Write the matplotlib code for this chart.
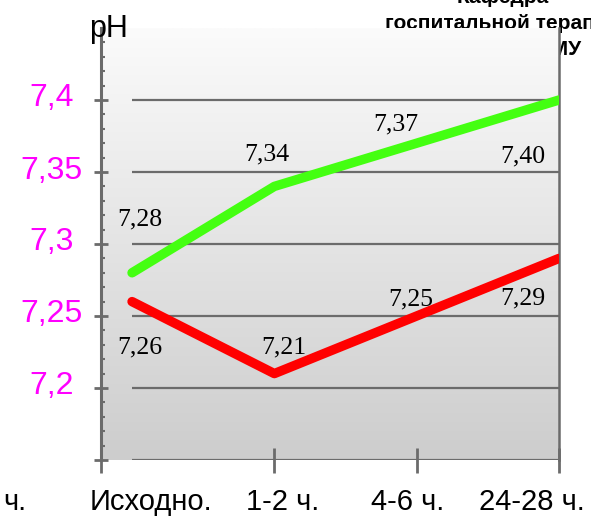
import numpy as np
import matplotlib.pyplot as plt
from matplotlib.colors import LinearSegmentedColormap
from matplotlib.ticker import MultipleLocator
from matplotlib.transforms import ScaledTranslation

plt.rcParams['font.family'] = ['Liberation Sans', 'DejaVu Sans']

# data
categories = ["Исходно.", "1-2 ч.", "4-6 ч.", "24-28 ч."]
green_vals = [7.28, 7.34, 7.37, 7.40]
red_vals = [7.26, 7.21, 7.25, 7.29]
green_text = ["7,28", "7,34", "7,37", "7,40"]
red_text = ["7,26", "7,21", "7,25", "7,29"]
y_ticks = [7.15, 7.2, 7.25, 7.3, 7.35, 7.4]
y_labels = ["", "7,2", "7,25", "7,3", "7,35", "7,4"]

# label offsets in pixels from each point
green_off = [(8, 47), (-8, 26), (-21, 13), (-36, -62)]
red_off = [(8, -52), (9, 20), (-6, 11), (-36, -46)]
cat_off = [19, 8, -9, -27]

W, H = 591, 517
fig = plt.figure(figsize=(W / 100, H / 100), dpi=100)
ax = fig.add_axes([101 / W, 57 / H, 458 / W, 432 / H])

x = np.arange(len(categories))
xlim = (-0.218, len(categories) - 1)
ylim = (7.15, 7.45)
ax.set_xlim(xlim)
ax.set_ylim(ylim)

# background gradient
cmap = LinearSegmentedColormap.from_list("bg", ["#fbfbfb", "#cdcdcd"])
ax.imshow(np.linspace(0, 1, 256).reshape(-1, 1), extent=[*xlim, *ylim],
          aspect='auto', cmap=cmap, zorder=0)

grid_c = '#6b6b6b'
ax.hlines(y_ticks, x[0], x[-1], colors=grid_c, lw=1.6, zorder=1)

ax.plot(x, green_vals, color='#44ff11', lw=6.8, solid_capstyle='round', zorder=3)
ax.plot(x, red_vals, color='#ff0000', lw=6.8, solid_capstyle='round', zorder=3)

for i in range(len(x)):
    ax.annotate(green_text[i], (x[i], green_vals[i]), xytext=green_off[i],
                textcoords='offset pixels', ha='center', va='baseline',
                fontsize=18.5, family='Liberation Serif', zorder=4)
    ax.annotate(red_text[i], (x[i], red_vals[i]), xytext=red_off[i],
                textcoords='offset pixels', ha='center', va='baseline',
                fontsize=18.5, family='Liberation Serif', zorder=4)
    ax.annotate(categories[i], (x[i], 0), xycoords=('data', 'axes fraction'),
                xytext=(cat_off[i], -50), textcoords='offset pixels',
                ha='center', va='baseline', fontsize=21, annotation_clip=False)

# spines and ticks
ax.spines['top'].set_visible(False)
ax.spines['bottom'].set_visible(False)
ax.spines['left'].set_color(grid_c)
ax.spines['left'].set_linewidth(2.2)
ax.spines['right'].set_color(grid_c)
ax.spines['right'].set_linewidth(1.8)

ax.set_yticks(y_ticks, y_labels)
ax.yaxis.set_minor_locator(MultipleLocator(0.01))
ax.tick_params(axis='y', which='major', direction='inout', length=9.4, width=2,
               color=grid_c, labelsize=23, labelcolor='#ff00ff', pad=31)
ax.tick_params(axis='y', which='minor', direction='in', length=3, width=1.5,
               color=grid_c)
shift = ScaledTranslation(0, 5 / 100, fig.dpi_scale_trans)
for lbl in ax.get_yticklabels():
    lbl.set_horizontalalignment('center')
    lbl.set_transform(lbl.get_transform() + shift)

ax.set_xticks([xlim[0], 1, 2, 3], ["", "", "", ""])
ax.tick_params(axis='x', direction='inout', length=18, width=2, color=grid_c)

# texts outside the axes
fig.text(109 / W, 1 - 37 / H, "pH", ha='center', va='baseline', fontsize=22)
fig.text(26 / W, 1 - 510 / H, "ч.", ha='right', va='baseline', fontsize=21)
fig.text(503 / W, 1 - 3 / H, "Кафедра", ha='center', va='baseline',
         fontsize=15, fontweight='bold', zorder=-1)
fig.text(385 / W, 1 - 29 / H, "госпитальной терапии", ha='left', va='baseline',
         fontsize=15, fontweight='bold', zorder=-1)
fig.text(582 / W, 1 - 55 / H, "ГМУ", ha='right', va='baseline',
         fontsize=15, fontweight='bold', zorder=-1)

fig.savefig("out.png", dpi=100)
